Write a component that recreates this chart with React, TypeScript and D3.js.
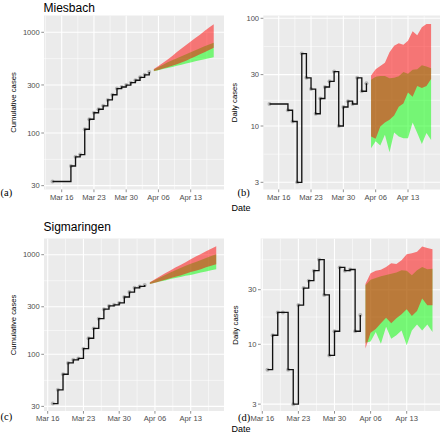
import React from "react";
import * as d3 from "d3";

// ---------------- data ----------------
const forecastDates = [
  "2020-04-05", "2020-04-06", "2020-04-07", "2020-04-08", "2020-04-09", "2020-04-10", "2020-04-11",
  "2020-04-12", "2020-04-13", "2020-04-14", "2020-04-15", "2020-04-16", "2020-04-17", "2020-04-18",
];

const miesbachDates = [
  "2020-03-14", "2020-03-18", "2020-03-19", "2020-03-20", "2020-03-21", "2020-03-22", "2020-03-23",
  "2020-03-24", "2020-03-25", "2020-03-26", "2020-03-27", "2020-03-28", "2020-03-29", "2020-03-30",
  "2020-03-31", "2020-04-01", "2020-04-02", "2020-04-03", "2020-04-04",
];
const miesbachCumulative = [33, 47, 58, 61, 109, 137, 159, 172, 186, 213, 240, 276, 286, 299, 316, 334, 357, 378, 403];
const miesbachDaily = [16, 14, 11, 3, 47, 28, 22, 13, 18, 23, 26, 32, 10, 15, 17, 16, 28, 21, 25];

const miesbachCumRedLow = [413, 423, 436, 450, 465, 482, 501, 523, 550, 575, 606, 635, 666, 703];
const miesbachCumRedHigh = [432, 464, 498, 536, 582, 636, 692, 748, 808, 880, 948, 1028, 1114, 1200];
const miesbachCumGreenLow = [410, 420, 431, 442, 453, 465, 477, 489, 501, 515, 528, 540, 552, 565];
const miesbachCumGreenHigh = [426, 451, 477, 503, 528, 553, 579, 607, 634, 664, 694, 726, 758, 788];

const miesbachDailyRedLow = [8.0, 7.6, 9.9, 10.8, 11.4, 12.5, 15.1, 16.2, 20.5, 18.7, 23.5, 22.5, 23.5, 27.3];
const miesbachDailyRedHigh = [29.5, 33.6, 36.1, 38.7, 48.3, 55.7, 58.6, 56.9, 62, 75.7, 69.5, 82.4, 88.5, 88.5];
const miesbachDailyGreenLow = [6.2, 7.2, 6.6, 8.3, 5.7, 8.7, 8.0, 7.7, 7.7, 10.8, 8.6, 6.8, 8.6, 7.4];
const miesbachDailyGreenHigh = [26.9, 28.7, 29.1, 29.1, 27.7, 28.1, 28.9, 31.7, 30.6, 33.3, 33.6, 36.6, 35.6, 34.3];

const sigmaringenDates = [
  "2020-03-17", "2020-03-18", "2020-03-19", "2020-03-20", "2020-03-21", "2020-03-22", "2020-03-23",
  "2020-03-24", "2020-03-25", "2020-03-26", "2020-03-27", "2020-03-28", "2020-03-29", "2020-03-30",
  "2020-03-31", "2020-04-01", "2020-04-02", "2020-04-03", "2020-04-04",
];
const sigmaringenCumulative = [32, 44, 63, 82, 88, 91, 114, 145, 182, 228, 284, 306, 314, 328, 376, 421, 465, 480, 496];
const sigmaringenDaily = [6, 12, 19, 19, 6, 3, 22, 31, 36, 44, 55, 27, 8, 13, 47, 44, 45, 13, 18];

const sigmaringenCumRedLow = [508, 523, 540, 559, 580, 599, 620, 643, 669, 691, 715, 747, 774, 801];
const sigmaringenCumRedHigh = [528, 567, 608, 650, 695, 743, 790, 841, 899, 957, 1018, 1085, 1150, 1214];
const sigmaringenCumGreenLow = [509, 522, 539, 551, 569, 583, 598, 615, 627, 643, 662, 678, 697, 713];
const sigmaringenCumGreenHigh = [525, 557, 591, 625, 661, 697, 734, 773, 812, 847, 886, 928, 968, 1009];

const sigmaringenDailyRedLow = [9.2, 12.6, 13.6, 15.3, 17.1, 15.3, 16.9, 18.3, 20.2, 17.7, 19.5, 25.1, 21.9, 21.9];
const sigmaringenDailyRedHigh = [33.7, 41.7, 44.0, 44.9, 47.4, 51.0, 50.3, 54.2, 61.2, 62.4, 64.5, 71.4, 69.5, 67.6];
const sigmaringenDailyGreenLow = [10.3, 10.6, 12.8, 10.1, 14.2, 11.2, 12.0, 13.2, 9.8, 13.2, 14.9, 13.2, 14.9, 12.8];
const sigmaringenDailyGreenHigh = [32.8, 36.7, 38.0, 39.3, 40.3, 41.4, 42.3, 44.3, 44.0, 40.1, 44.3, 47.4, 45.2, 45.8];

const xTickDates = ["2020-03-16", "2020-03-23", "2020-03-30", "2020-04-06", "2020-04-13"];
const xTickLabels = ["Mar 16", "Mar 23", "Mar 30", "Apr 06", "Apr 13"];
const xMinorDates = ["2020-03-12T12:00", "2020-03-19T12:00", "2020-03-26T12:00", "2020-04-02T12:00", "2020-04-09T12:00", "2020-04-16T12:00"];

const cumYTicks = [30, 100, 300, 1000];
const cumYMinor = [54.77, 173.2, 547.7];
const dailyYTicks = [3, 10, 30, 100];
const dailyYMinor = [5.477, 17.32, 54.77];

// ---------------- helpers ----------------
const toDate = (s: string) => new Date((s.length === 10 ? s + "T00:00" : s) + ":00Z");
const SANS = "'Liberation Sans', Arial, Helvetica, sans-serif";
const SERIF = "'Liberation Serif', 'Times New Roman', serif";

type PanelSpec = {
  id: string;
  left: number; right: number; top: number; bottom: number;
  xMar16: number; xApr13: number;
  yDomain: [number, number]; yRange: [number, number];
  yTicks: number[]; yMinor: number[];
  dates: string[]; values: number[];
  redLow: number[]; redHigh: number[]; greenLow: number[]; greenHigh: number[];
};

function Panel({ s }: { s: PanelSpec }) {
  const x = d3.scaleUtc().domain([toDate("2020-03-16"), toDate("2020-04-13")]).range([s.xMar16, s.xApr13]);
  const y = d3.scaleLog().domain(s.yDomain).range(s.yRange);
  const inY = (v: number) => y(v) >= s.top - 0.5 && y(v) <= s.bottom + 0.5;
  const inX = (d: Date) => x(d) >= s.left && x(d) <= s.right;

  const obs = s.dates.map((d, i) => ({ d: toDate(d), v: s.values[i] }));
  const fc = forecastDates.map((d, i) => ({
    d: toDate(d), rl: s.redLow[i], rh: s.redHigh[i], gl: s.greenLow[i], gh: s.greenHigh[i],
  }));

  const step = d3.line<{ d: Date; v: number }>().x((p) => x(p.d)).y((p) => y(p.v)).curve(d3.curveStepAfter);
  const greenArea = d3.area<any>().x((p) => x(p.d)).y0((p) => y(p.gl)).y1((p) => y(p.gh));
  const redArea = d3.area<any>().x((p) => x(p.d)).y0((p) => y(p.rl)).y1((p) => y(p.rh));

  return (
    <g>
      <defs>
        <clipPath id={`clip-${s.id}`}>
          <rect x={s.left} y={s.top} width={s.right - s.left} height={s.bottom - s.top} />
        </clipPath>
      </defs>
      <rect x={s.left} y={s.top} width={s.right - s.left} height={s.bottom - s.top} fill="#EBEBEB" />
      <g clipPath={`url(#clip-${s.id})`}>
        {s.yMinor.filter(inY).map((v) => (
          <line key={"ym" + v} x1={s.left} x2={s.right} y1={y(v)} y2={y(v)} stroke="#fff" strokeWidth={0.55} />
        ))}
        {xMinorDates.map(toDate).filter(inX).map((d) => (
          <line key={"xm" + d.getTime()} x1={x(d)} x2={x(d)} y1={s.top} y2={s.bottom} stroke="#fff" strokeWidth={0.55} />
        ))}
        {s.yTicks.filter(inY).map((v) => (
          <line key={"y" + v} x1={s.left} x2={s.right} y1={y(v)} y2={y(v)} stroke="#fff" strokeWidth={1.1} />
        ))}
        {xTickDates.map(toDate).map((d) => (
          <line key={"x" + d.getTime()} x1={x(d)} x2={x(d)} y1={s.top} y2={s.bottom} stroke="#fff" strokeWidth={1.1} />
        ))}
        <path d={greenArea(fc) || ""} fill="#00FF00" fillOpacity={0.5} />
        <path d={redArea(fc) || ""} fill="#FF0000" fillOpacity={0.5} />
        {obs.map((p, i) => (
          <circle key={"pt" + i} cx={x(p.d)} cy={y(p.v)} r={2} fill="#8f8f8f" fillOpacity={0.6} />
        ))}
        <path d={step(obs) || ""} fill="none" stroke="#111" strokeWidth={1.35} />
      </g>
      {/* y axis */}
      {s.yTicks.filter(inY).map((v) => (
        <g key={"yt" + v}>
          <line x1={s.left - 2.7} x2={s.left} y1={y(v)} y2={y(v)} stroke="#333" strokeWidth={0.55} />
          <text x={s.left - 4.2} y={y(v)} dy="0.35em" textAnchor="end" fontSize={7.6} fill="#4D4D4D" fontFamily={SANS}>
            {String(v)}
          </text>
        </g>
      ))}
      {/* x axis */}
      {xTickDates.map((ds, i) => {
        const d = toDate(ds);
        return (
          <g key={"xt" + ds}>
            <line x1={x(d)} x2={x(d)} y1={s.bottom} y2={s.bottom + 2.7} stroke="#333" strokeWidth={0.55} />
            <text x={x(d)} y={s.bottom + 10} textAnchor="middle" fontSize={7.6} fill="#4D4D4D" fontFamily={SANS}>
              {xTickLabels[i]}
            </text>
          </g>
        );
      })}
    </g>
  );
}

const panels: PanelSpec[] = [
  {
    id: "a", left: 44, right: 224, top: 15.5, bottom: 189.5, xMar16: 61.7, xApr13: 190.7,
    yDomain: [100, 1000], yRange: [133, 32.3], yTicks: cumYTicks, yMinor: cumYMinor,
    dates: miesbachDates, values: miesbachCumulative,
    redLow: miesbachCumRedLow, redHigh: miesbachCumRedHigh, greenLow: miesbachCumGreenLow, greenHigh: miesbachCumGreenHigh,
  },
  {
    id: "b", left: 263.3, right: 440, top: 15.5, bottom: 189.5, xMar16: 278.7, xApr13: 408,
    yDomain: [10, 100], yRange: [126, 18.3], yTicks: dailyYTicks, yMinor: dailyYMinor,
    dates: miesbachDates, values: miesbachDaily,
    redLow: miesbachDailyRedLow, redHigh: miesbachDailyRedHigh, greenLow: miesbachDailyGreenLow, greenHigh: miesbachDailyGreenHigh,
  },
  {
    id: "c", left: 44, right: 224, top: 238.5, bottom: 411, xMar16: 47.7, xApr13: 190.7,
    yDomain: [100, 1000], yRange: [354.3, 254.7], yTicks: cumYTicks, yMinor: cumYMinor,
    dates: sigmaringenDates, values: sigmaringenCumulative,
    redLow: sigmaringenCumRedLow, redHigh: sigmaringenCumRedHigh, greenLow: sigmaringenCumGreenLow, greenHigh: sigmaringenCumGreenHigh,
  },
  {
    id: "d", left: 260.7, right: 440, top: 238.5, bottom: 411, xMar16: 262.3, xApr13: 406.7,
    yDomain: [10, 30], yRange: [344.3, 289.7], yTicks: dailyYTicks, yMinor: dailyYMinor,
    dates: sigmaringenDates, values: sigmaringenDaily,
    redLow: sigmaringenDailyRedLow, redHigh: sigmaringenDailyRedHigh, greenLow: sigmaringenDailyGreenLow, greenHigh: sigmaringenDailyGreenHigh,
  },
];

export default function App() {
  return (
    <svg width={440} height={434} viewBox="0 0 440 434"
      style={{ position: "absolute", left: 0, top: 0, background: "#fff" }}>
      <rect x={0} y={0} width={440} height={434} fill="#fff" />
      {panels.map((s) => <Panel key={s.id} s={s} />)}

      <text x={43.5} y={11.5} fontSize={12} fontFamily={SANS} fill="#000">Miesbach</text>
      <text x={43.5} y={230.5} fontSize={12} fontFamily={SANS} fill="#000">Sigmaringen</text>

      <text transform="translate(13.3,102.5) rotate(-90)" dy="0.35em" textAnchor="middle" fontSize={7.7} fontFamily={SANS} fill="#000">Cumulative cases</text>
      <text transform="translate(13.3,325) rotate(-90)" dy="0.35em" textAnchor="middle" fontSize={7.7} fontFamily={SANS} fill="#000">Cumulative cases</text>
      <text transform="translate(234,102.5) rotate(-90)" dy="0.35em" textAnchor="middle" fontSize={7.7} fontFamily={SANS} fill="#000">Daily cases</text>
      <text transform="translate(235,325) rotate(-90)" dy="0.35em" textAnchor="middle" fontSize={7.7} fontFamily={SANS} fill="#000">Daily cases</text>

      <text x={0.5} y={195.5} fontSize={10.5} fontFamily={SERIF} fill="#000">(a)</text>
      <text x={237.5} y={196} fontSize={10.5} fontFamily={SERIF} fill="#000">(b)</text>
      <text x={0.5} y={419.5} fontSize={10.5} fontFamily={SERIF} fill="#000">(c)</text>
      <text x={238} y={420.5} fontSize={10.5} fontFamily={SERIF} fill="#000">(d)</text>

      <text x={231.5} y={210.5} fontSize={9} fontFamily={SANS} fill="#000">Date</text>
      <text x={231.5} y={432} fontSize={9} fontFamily={SANS} fill="#000">Date</text>
    </svg>
  );
}
